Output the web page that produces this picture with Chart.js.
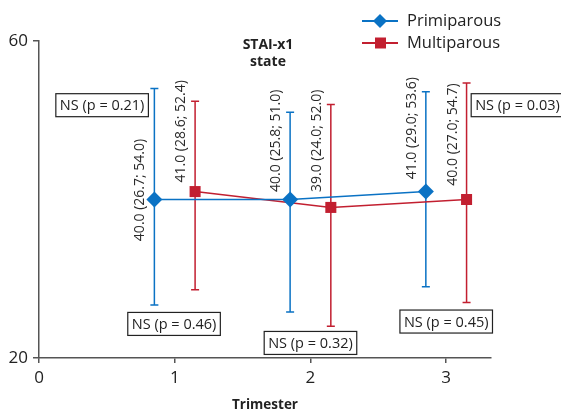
<!DOCTYPE html>
<html>
<head>
<meta charset="utf-8">
<script src="https://cdn.jsdelivr.net/npm/chart.js@4"></script>
<style>
  html, body { margin: 0; padding: 0; background: #fff; }
  #wrap { width: 561px; height: 416px; position: relative; }
</style>
</head>
<body>
<div id="wrap"><canvas id="grafica" width="561" height="416"></canvas></div>
<script>
const trimestres = [1, 2, 3];
const xTicks = [0, 1, 2, 3];
const yTicks = [20, 60];

const primMediana = [40.0, 40.0, 41.0];
const primBajo = [26.7, 25.8, 29.0];
const primAlto = [54.0, 51.0, 53.6];

const multiMediana = [41.0, 39.0, 40.0];
const multiBajo = [28.6, 24.0, 27.0];
const multiAlto = [52.4, 52.0, 54.7];

const pValores = ["0.21", "0.46", "0.32", "0.45", "0.03"];

const AZUL = "#0a72c4";
const ROJO = "#c21f30";
const FUENTE = "'Open Sans', sans-serif";
const desplaz = 0.15;

const fmt = (v) => v.toFixed(1);

const primPuntos = trimestres.map((t, i) => ({ x: t - desplaz, y: primMediana[i] }));
const multiPuntos = trimestres.map((t, i) => ({ x: t + desplaz, y: multiMediana[i] }));

// error bars + rotated labels + NS boxes + legend + title
const extras = {
  id: "extras",
  beforeDatasetsDraw(chart) {
    const { ctx, scales: { x, y } } = chart;
    const barras = [
      { pts: primPuntos, lo: primBajo, hi: primAlto, color: AZUL },
      { pts: multiPuntos, lo: multiBajo, hi: multiAlto, color: ROJO },
    ];
    ctx.save();
    ctx.lineWidth = 1.5;
    barras.forEach((b) => {
      ctx.strokeStyle = b.color;
      b.pts.forEach((p, i) => {
        const px = x.getPixelForValue(p.x);
        const top = y.getPixelForValue(b.hi[i]);
        const bot = y.getPixelForValue(b.lo[i]);
        ctx.beginPath();
        ctx.moveTo(px, top);
        ctx.lineTo(px, bot);
        ctx.moveTo(px - 4, top);
        ctx.lineTo(px + 4, top);
        ctx.moveTo(px - 4, bot);
        ctx.lineTo(px + 4, bot);
        ctx.stroke();
      });
    });
    ctx.restore();
  },
  afterDatasetsDraw(chart) {
    const { ctx, scales: { x, y } } = chart;
    ctx.save();

    // rotated value labels
    const centros = [41.2, 48.6, 47.4, 47.4, 49.0, 48.2];
    const etiquetas = [];
    trimestres.forEach((t, i) => {
      etiquetas.push({ p: primPuntos[i], txt: `${fmt(primMediana[i])} (${fmt(primBajo[i])}; ${fmt(primAlto[i])})` });
      etiquetas.push({ p: multiPuntos[i], txt: `${fmt(multiMediana[i])} (${fmt(multiBajo[i])}; ${fmt(multiAlto[i])})` });
    });
    ctx.fillStyle = "#2a2a2a";
    ctx.font = `14px ${FUENTE}`;
    ctx.textAlign = "center";
    ctx.textBaseline = "middle";
    etiquetas.forEach((e, k) => {
      ctx.save();
      ctx.translate(x.getPixelForValue(e.p.x) - 14, y.getPixelForValue(centros[k]));
      ctx.rotate(-Math.PI / 2);
      ctx.fillText(e.txt, 0, 0);
      ctx.restore();
    });

    // NS boxes
    const cajas = [
      { x: 0.465, y: 51.9 },
      { x: 0.995, y: 24.3 },
      { x: 2.0, y: 21.9 },
      { x: 3.0, y: 24.6 },
      { x: 3.525, y: 51.9 },
    ];
    ctx.font = `14.5px ${FUENTE}`;
    cajas.forEach((c, i) => {
      const txt = `NS (p = ${pValores[i]})`;
      const cx = x.getPixelForValue(c.x);
      const cy = y.getPixelForValue(c.y);
      const w = ctx.measureText(txt).width + 8;
      const h = 23;
      ctx.fillStyle = "#fff";
      ctx.fillRect(cx - w / 2, cy - h / 2, w, h);
      ctx.strokeStyle = "#222";
      ctx.lineWidth = 1.2;
      ctx.strokeRect(cx - w / 2, cy - h / 2, w, h);
      ctx.fillStyle = "#222";
      ctx.fillText(txt, cx, cy + 1);
    });

    // title
    ctx.font = `bold 14px ${FUENTE}`;
    ctx.fillStyle = "#222";
    ctx.fillText("STAI-x1", 268, 45);
    ctx.fillText("state", 268, 62);

    // legend
    const leyenda = [
      { txt: "Primiparous", color: AZUL, forma: "rombo", yy: 21 },
      { txt: "Multiparous", color: ROJO, forma: "cuadro", yy: 43 },
    ];
    leyenda.forEach((l) => {
      ctx.strokeStyle = l.color;
      ctx.fillStyle = l.color;
      ctx.lineWidth = 2;
      ctx.beginPath();
      ctx.moveTo(362, l.yy);
      ctx.lineTo(398, l.yy);
      ctx.stroke();
      ctx.beginPath();
      if (l.forma === "rombo") {
        ctx.moveTo(380, l.yy - 7);
        ctx.lineTo(387, l.yy);
        ctx.lineTo(380, l.yy + 7);
        ctx.lineTo(373, l.yy);
        ctx.closePath();
      } else {
        ctx.rect(375, l.yy - 5.5, 11, 11);
      }
      ctx.fill();
      ctx.fillStyle = "#222";
      ctx.font = `16.5px ${FUENTE}`;
      ctx.textAlign = "left";
      ctx.fillText(l.txt, 407, l.yy);
    });

    ctx.restore();
  },
};

new Chart(document.getElementById("grafica"), {
  type: "line",
  data: {
    datasets: [
      {
        label: "Primiparous",
        data: primPuntos,
        borderColor: AZUL,
        backgroundColor: AZUL,
        borderWidth: 1.6,
        pointStyle: "rectRot",
        pointRadius: 8,
        pointBorderWidth: 0,
        tension: 0,
      },
      {
        label: "Multiparous",
        data: multiPuntos,
        borderColor: ROJO,
        backgroundColor: ROJO,
        borderWidth: 1.6,
        pointStyle: "rect",
        pointRadius: 7.8,
        pointBorderWidth: 0,
        tension: 0,
      },
    ],
  },
  options: {
    responsive: false,
    animation: false,
    devicePixelRatio: 1,
    layout: { padding: { top: 41, right: 70, left: 0, bottom: 0 } },
    plugins: {
      legend: { display: false },
      tooltip: { enabled: false },
    },
    scales: {
      x: {
        type: "linear",
        min: 0,
        max: 3.33,
        afterBuildTicks: (s) => { s.ticks = xTicks.map((v) => ({ value: v })); },
        afterFit: (s) => { s.height = 58; },
        grid: { drawOnChartArea: false, color: "#555", lineWidth: 1.5, tickLength: 5 },
        border: { color: "#555", width: 1.5 },
        ticks: { color: "#222", font: { family: FUENTE, size: 17 }, padding: 5, maxRotation: 0 },
        title: {
          display: true,
          text: "Trimester",
          color: "#222",
          font: { family: FUENTE, size: 13.5, weight: "bold" },
          padding: { top: 0, bottom: 3 },
        },
      },
      y: {
        min: 20,
        max: 60,
        afterBuildTicks: (s) => { s.ticks = yTicks.map((v) => ({ value: v })); },
        afterFit: (s) => { s.width = 39; },
        grid: { drawOnChartArea: false, color: "#555", lineWidth: 1.5, tickLength: 6 },
        border: { color: "#555", width: 1.5 },
        ticks: { color: "#222", font: { family: FUENTE, size: 17 }, padding: 5 },
      },
    },
  },
  plugins: [extras],
});
</script>
</body>
</html>
